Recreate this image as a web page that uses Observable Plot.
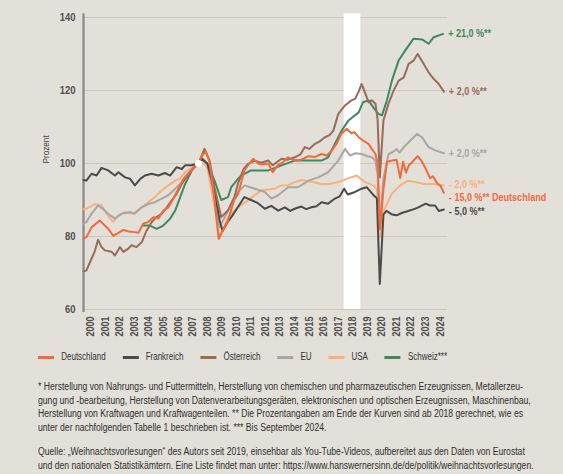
<!DOCTYPE html>
<html>
<head>
<meta charset="utf-8">
<script src="https://cdn.jsdelivr.net/npm/d3@7"></script>
<script src="https://cdn.jsdelivr.net/npm/@observablehq/plot@0.6"></script>
<style>
  body { margin: 0; background: #e3dfd9; font-family: "Liberation Sans", Arial, sans-serif; color: #3a3a3a; }
  #chart { width: 563px; overflow: hidden; }
  .legend { display: flex; gap: 21px; margin: 6px 0 0 38px; font-size: 10px; align-items: center; color: #333;
            transform: scaleX(0.8); transform-origin: left center; white-space: nowrap; }
  .legend .sw { display: inline-block; width: 20px; height: 3px; margin-right: 9px; vertical-align: middle; }
  .notes { margin: 18px 0 0 38px; font-size: 10px; line-height: 13.7px; white-space: nowrap; color: #2f2f2f;
           transform-origin: left top; }
  .notes p { margin: 0 0 10px 0; }
</style>
</head>
<body>
<div id="chart"></div>
<script>
const deutschland = [[2000.0,79.4],[2000.2,79.8],[2000.55,82.5],[2001.12,84.4],[2001.46,83],[2001.7,82.1],[2002.04,80.2],[2002.4,81],[2002.74,81.8],[2003.08,81.4],[2003.53,81.2],[2003.77,81],[2004.1,83.5],[2004.45,84],[2004.8,85.3],[2005.14,84.9],[2005.48,87.1],[2005.83,88],[2006.17,90.4],[2006.52,93.1],[2006.87,95.8],[2007.3,97.8],[2007.9,100],[2008.1,102],[2008.4,103.3],[2008.65,100.5],[2009.0,90],[2009.28,79.4],[2009.6,82],[2009.92,84.4],[2010.35,90],[2010.61,91.5],[2011.05,98.1],[2011.4,100],[2011.65,101.3],[2012.0,100],[2012.2,99.7],[2012.7,100],[2013.0,97.6],[2013.37,99.6],[2013.7,100.3],[2014.05,101.7],[2014.4,101],[2014.75,100.8],[2015.1,101.3],[2015.45,102],[2015.9,101.8],[2016.35,102.6],[2016.7,102.2],[2017.05,103.5],[2017.4,105.5],[2017.7,108.1],[2018.07,109.5],[2018.4,108.3],[2018.6,108.6],[2018.9,107.2],[2019.2,106.3],[2019.57,105.4],[2019.8,104],[2020.05,102.6],[2020.2,100],[2020.37,82],[2020.6,93],[2020.85,100.5],[2021.2,100.8],[2021.5,101],[2021.75,96],[2021.95,100.5],[2022.15,97.5],[2022.35,99.5],[2022.6,100.5],[2022.95,102],[2023.2,100.8],[2023.45,99],[2023.8,96],[2024.0,96.5],[2024.3,94.5],[2024.5,94],[2024.75,92]];
const frankreich = [[2000.0,95.5],[2000.2,95.3],[2000.55,97.2],[2000.9,96.7],[2001.24,98.8],[2001.7,98.1],[2002.16,96.7],[2002.4,97.6],[2002.85,96.2],[2003.2,95.8],[2003.53,94],[2003.9,95.8],[2004.22,96.7],[2004.68,97.2],[2005.14,96.7],[2005.6,97.4],[2005.95,96.7],[2006.4,99],[2006.75,98.5],[2006.98,99.5],[2007.4,99.5],[2007.9,100],[2008.1,101.3],[2008.5,100],[2009.0,92.6],[2009.35,84.4],[2009.55,81.5],[2009.9,84],[2010.15,85.3],[2010.6,88],[2011.05,90.8],[2011.5,90],[2011.96,89.2],[2012.45,87.6],[2012.9,88.4],[2013.37,87.1],[2013.83,88],[2014.2,87],[2014.5,87.6],[2014.96,88.2],[2015.3,87.5],[2015.66,88],[2016.0,88.3],[2016.35,89.4],[2016.8,89],[2017.27,90.4],[2017.6,91],[2017.9,93.1],[2018.15,91.5],[2018.65,92.2],[2019.1,93.1],[2019.45,93.5],[2019.9,91.4],[2020.15,90.5],[2020.35,67],[2020.6,86],[2020.8,87],[2021.2,86],[2021.5,85.8],[2021.9,86.5],[2022.3,87],[2022.7,87.5],[2023.0,88],[2023.5,89],[2023.8,88.5],[2024.15,88.5],[2024.4,87],[2024.75,87.4]];
const oesterreich = [[2000.0,70.5],[2000.2,70.7],[2000.55,73.9],[2000.78,76],[2001.0,79.1],[2001.24,77.1],[2001.47,76.2],[2001.93,75.8],[2002.16,74.8],[2002.5,77.1],[2002.74,75.8],[2003.08,76.7],[2003.3,77.6],[2003.64,77.1],[2004.0,78.4],[2004.33,81.6],[2004.68,83.9],[2005.0,85.3],[2005.37,86.2],[2005.72,88],[2006.06,89.9],[2006.4,91.7],[2006.75,94.4],[2006.98,95.8],[2007.4,98],[2007.9,100],[2008.31,104],[2008.66,100.8],[2009.0,93.5],[2009.46,85.3],[2009.92,87.1],[2010.38,91],[2010.6,94.4],[2011.0,98.5],[2011.3,99.9],[2011.76,100.8],[2012.2,100.2],[2012.7,100.8],[2013.0,99.5],[2013.6,101.3],[2014.0,101],[2014.5,101.7],[2014.9,102.5],[2015.2,104.5],[2015.5,104],[2015.9,105.4],[2016.2,106],[2016.58,107.2],[2016.9,107.8],[2017.16,109],[2017.5,113.6],[2017.96,115.9],[2018.4,117.3],[2018.65,117.7],[2018.88,119.5],[2019.1,121.8],[2019.33,119.5],[2019.57,116.8],[2019.8,117.3],[2020.05,116.4],[2020.2,112],[2020.35,96.2],[2020.6,111.8],[2020.95,116.4],[2021.3,120],[2021.65,122.7],[2022.0,123.6],[2022.33,127.3],[2022.67,128.2],[2022.95,130],[2023.36,127.3],[2023.7,125],[2024.05,123.2],[2024.4,121.8],[2024.75,119.7]];
const eu = [[2000.0,83.5],[2000.2,84],[2000.55,86.2],[2001.0,88.5],[2001.33,87.6],[2001.7,86.2],[2002.16,84.9],[2002.6,86.2],[2003.2,86.7],[2003.5,86.2],[2004.0,88],[2004.45,88.9],[2004.9,89.4],[2005.37,90.4],[2005.83,91.3],[2006.3,93.1],[2006.75,94.9],[2006.98,96.2],[2007.4,98.2],[2007.9,100],[2008.1,101.5],[2008.5,100],[2009.0,91],[2009.35,82.5],[2009.92,87],[2010.6,92.2],[2011.07,94],[2011.76,93.1],[2012.45,92.2],[2012.9,90.4],[2013.37,91.3],[2014.05,93.5],[2014.75,93.5],[2015.45,95.3],[2016.13,96.2],[2016.8,97.6],[2017.5,100.8],[2017.96,104],[2018.3,102.2],[2018.7,102.8],[2019.1,102.6],[2019.5,102],[2019.8,101.7],[2020.05,100.8],[2020.2,97],[2020.35,83],[2020.6,96],[2020.95,102.6],[2021.2,103],[2021.5,104],[2021.7,103],[2022.0,104.5],[2022.33,105.8],[2022.9,108.1],[2023.25,107.2],[2023.7,104.5],[2024.16,103.6],[2024.75,102.8]];
const usa = [[2000.0,87.5],[2000.2,87.6],[2000.78,88.9],[2001.24,88.5],[2001.58,86.2],[2002.04,84],[2002.4,85.8],[2002.85,86.7],[2003.4,86.2],[2003.88,87.6],[2004.45,89.4],[2004.9,90.8],[2005.37,92.6],[2005.83,94],[2006.3,95.3],[2006.6,95.8],[2006.98,97.6],[2007.4,98.8],[2007.9,100],[2008.1,100.5],[2008.5,99],[2009.0,88],[2009.35,79.5],[2009.92,85.3],[2010.6,88],[2011.3,89.9],[2012.2,92.6],[2013.13,93.1],[2013.6,94],[2014.05,94],[2014.5,94.9],[2015.0,95.5],[2015.66,95],[2016.35,94.4],[2016.9,94.4],[2017.5,94.9],[2018.07,95.8],[2018.77,96.7],[2019.34,94.9],[2019.92,94],[2020.15,93],[2020.37,79.8],[2020.6,87],[2020.85,89],[2021.18,91.7],[2021.75,94],[2022.3,95.3],[2022.8,94.9],[2023.4,94.4],[2024.1,94.4],[2024.75,94]];
const schweiz = [[2004.1,83],[2004.56,83],[2005.03,82.1],[2005.48,83],[2005.95,84.9],[2006.3,87.1],[2006.64,90.8],[2006.98,94.4],[2007.5,98.6],[2007.9,100],[2008.1,101.5],[2008.5,100],[2009.0,95.3],[2009.46,90],[2009.92,90.8],[2010.15,93.5],[2010.61,95.8],[2010.84,96.7],[2011.5,98.1],[2012.7,98.1],[2013.6,99.5],[2014.5,100.8],[2015.45,100.8],[2016.35,100.8],[2016.8,101.7],[2017.27,105.4],[2017.73,109],[2018.2,111.8],[2018.9,114],[2019.2,116.8],[2019.57,117.3],[2019.9,115.4],[2020.26,113.6],[2020.5,113.2],[2020.84,117.3],[2021.18,122.7],[2021.64,128.2],[2022.1,131],[2022.67,134.2],[2023.25,134],[2023.7,132.8],[2024.05,134.6],[2024.7,135.5]];

const countries = ["Deutschland", "Frankreich", "Österreich", "EU", "USA", "Schweiz***"];
const colors = ["#f26a3c", "#4b4b4b", "#9a6b59", "#aaa7a2", "#f9b17b", "#3e8a5f"];
const seriesData = [deutschland, frankreich, oesterreich, eu, usa, schweiz];

// Beschriftung am Kurvenende
const endLabels = ["+ 21,0 %**", "+ 2,0 %**", "+ 2,0 %**", "- 2,0 %**", "- 15,0 %** Deutschland", "- 5,0 %**"];
const endLabelSeries = [5, 2, 3, 4, 0, 1];
const endLabelY = [135.5, 119.6, 102.8, 94.1, 90.6, 86.7];

const years = [2000,2001,2002,2003,2004,2005,2006,2007,2008,2009,2010,2011,2012,2013,2014,2015,2016,2017,2018,2019,2020,2021,2022,2023,2024];
const yTicks = [60, 80, 100, 120, 140];
const band2018 = [2017.9, 2019.05];
const basePoint = [2007.9, 100];

const rows = seriesData.flatMap((s, i) => s.map(([t, v]) => ({t, v, country: countries[i]})));
const labels = endLabels.map((text, i) => {
  const s = seriesData[endLabelSeries[i]];
  return {t: s[s.length - 1][0], v: endLabelY[i], text, color: colors[endLabelSeries[i]]};
});

// Zeichenreihenfolge: Deutschland zuletzt (oben)
const drawOrder = ["USA", "EU", "Schweiz***", "Frankreich", "Österreich", "Deutschland"];

const chart = Plot.plot({
  width: 563,
  height: 345,
  marginTop: 17,
  marginBottom: 36,
  marginLeft: 83,
  marginRight: 116,
  style: {background: "transparent", fontFamily: "'Liberation Sans', Arial, sans-serif", color: "#505050"},
  x: {domain: [2000, 2025]},
  y: {domain: [60, 140]},
  color: {domain: countries, range: colors},
  marks: [
    Plot.gridY(yTicks, {stroke: "#cac6c0", strokeOpacity: 1, strokeWidth: 1.2}),
    Plot.rect([band2018], {x1: d => d[0], x2: d => d[1], y1: 60, y2: 141, fill: "white"}),
    Plot.ruleX([2000], {y1: 59.2, y2: 141, stroke: "#8a8884", strokeWidth: 2.2}),
    Plot.axisY(yTicks, {tickSize: 0, tickPadding: 8, fontSize: 11, fontWeight: "bold", label: null}),
    Plot.text(["Prozent"], {frameAnchor: "left", text: d => d, rotate: -90, dx: -38, fontSize: 9.5, fill: "#444"}),
    Plot.axisX(years.map(y => y + 0.5), {tickSize: 0, tickPadding: 7, tickRotate: -90, fontSize: 10.5, fontWeight: "bold", tickFormat: d => String(Math.floor(d)), label: null}),
    ...drawOrder.map(c => Plot.line(rows.filter(d => d.country === c), {
      x: "t", y: "v", stroke: "country", strokeWidth: 2, curve: "linear"
    })),
    Plot.dot([basePoint], {x: d => d[0], y: d => d[1], r: 3.6, fill: "white"}),
    Plot.text(labels, {x: "t", y: "v", text: "text", fill: "color", dx: 5, textAnchor: "start", fontSize: 10.5, fontWeight: "bold"})
  ]
});

const wrap = d3.select("#chart");
wrap.append(() => chart);

// schmale Schrift nachbilden: Texte horizontal stauchen
d3.select(chart).selectAll("text").each(function() {
  const w = this.getComputedTextLength();
  if (w > 0) d3.select(this).attr("textLength", w * 0.86).attr("lengthAdjust", "spacingAndGlyphs");
});

const legend = wrap.append("div").attr("class", "legend");
countries.forEach((c, i) => {
  const item = legend.append("div");
  item.append("span").attr("class", "sw").style("background", colors[i]);
  item.append("span").text(c);
});

const notes = wrap.append("div").attr("class", "notes");
const p1 = notes.append("p");
p1.append("span").attr("class", "first").text("* Herstellung von Nahrungs- und Futtermitteln, Herstellung von chemischen und pharmazeutischen Erzeugnissen, Metallerzeu-");
p1.append("br");
p1.append("span").text("gung und -bearbeitung, Herstellung von Datenverarbeitungsgeräten, elektronischen und optischen Erzeugnissen, Maschinenbau,");
p1.append("br");
p1.append("span").text("Herstellung von Kraftwagen und Kraftwagenteilen. ** Die Prozentangaben am Ende der Kurven sind ab 2018 gerechnet, wie es");
p1.append("br");
p1.append("span").text("unter der nachfolgenden Tabelle 1 beschrieben ist. *** Bis September 2024.");
const p2 = notes.append("p");
p2.append("span").text("Quelle: „Weihnachtsvorlesungen“ des Autors seit 2019, einsehbar als You-Tube-Videos, aufbereitet aus den Daten von Eurostat");
p2.append("br");
p2.append("span").text("und den nationalen Statistikämtern. Eine Liste findet man unter: https://www.hanswernersinn.de/de/politik/weihnachtsvorlesungen.");

const firstW = notes.select(".first").node().getBoundingClientRect().width;
notes.style("transform", `scaleX(${485 / firstW})`);
</script>
</body>
</html>
